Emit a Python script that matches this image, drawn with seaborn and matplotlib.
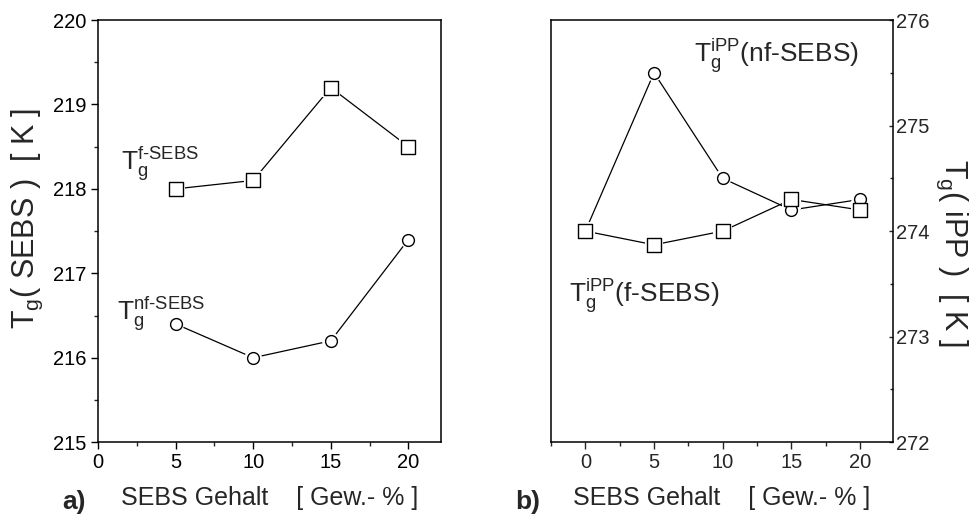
import matplotlib
matplotlib.use("Agg")
import matplotlib.pyplot as plt
import seaborn as sns
import pandas as pd
from matplotlib.ticker import MultipleLocator

# SEBS glass transition vs. SEBS content (panel a)
content_a = [5, 10, 15, 20]
tg_sebs_f = [218.0, 218.1, 219.2, 218.5]
tg_sebs_nf = [216.4, 216.0, 216.2, 217.4]

# iPP glass transition vs. SEBS content (panel b)
content_b = [0, 5, 10, 15, 20]
tg_ipp_nf = [274.0, 275.5, 274.5, 274.2, 274.3]
tg_ipp_f = [274.0, 273.87, 274.0, 274.3, 274.2]

sns.set_style("white")
plt.rcParams["font.family"] = ["Liberation Sans", "DejaVu Sans"]
plt.rcParams["mathtext.fontset"] = "custom"
plt.rcParams["mathtext.rm"] = "Liberation Sans"
plt.rcParams["mathtext.it"] = "Liberation Sans"
plt.rcParams["mathtext.default"] = "regular"

fig = plt.figure(figsize=(9.73, 5.27), dpi=100)
ax_a = fig.add_axes([0.1007, 0.161, 0.3525, 0.801])
ax_b = fig.add_axes([0.5663, 0.161, 0.3515, 0.801])

MS = {"s": 9.5, "o": 8.5}
TICK_FS = 14.5
XLAB_FS = 18
YLAB_FS = 22
ANN_FS = 19


def draw_series(ax, x, y):
    df = pd.DataFrame({"x": x, "y": y})
    sns.lineplot(data=df, x="x", y="y", ax=ax, color="black", linewidth=0.9,
                 zorder=1)
    return df


def draw_markers(ax, df, marker, halo):
    ms = MS[marker]
    if halo:
        sns.scatterplot(data=df, x="x", y="y", ax=ax, marker=marker,
                        s=(ms + 4) ** 2, color="white", edgecolor="none",
                        linewidth=0, zorder=2)
    else:
        sns.scatterplot(data=df, x="x", y="y", ax=ax, marker=marker,
                        s=ms ** 2, color="white", edgecolor="black",
                        linewidth=1.0, zorder=3)


def style_frame(ax):
    for sp in ax.spines.values():
        sp.set_visible(True)
        sp.set_linewidth(1.1)
        sp.set_color("black")
    ax.set_xlabel("")
    ax.set_ylabel("")


# ---- panel a ----
dfa = [(draw_series(ax_a, content_a, tg_sebs_f), "s"),
       (draw_series(ax_a, content_a, tg_sebs_nf), "o")]
for df, m in dfa:
    draw_markers(ax_a, df, m, True)
for df, m in dfa:
    draw_markers(ax_a, df, m, False)

style_frame(ax_a)
ax_a.set_xlim(0, 22.1)
ax_a.set_ylim(215, 220)
ax_a.xaxis.set_major_locator(MultipleLocator(5))
ax_a.xaxis.set_minor_locator(MultipleLocator(2.5))
ax_a.yaxis.set_major_locator(MultipleLocator(1))
ax_a.yaxis.set_minor_locator(MultipleLocator(0.5))
ax_a.tick_params(axis="both", which="major", direction="out", length=5,
                 width=1, labelsize=TICK_FS, pad=3, colors="black")
ax_a.tick_params(axis="both", which="minor", direction="out", length=3,
                 width=1)
ax_a.tick_params(left=True, bottom=True, which="both")
ax_a.set_ylabel(r"T$_g$( SEBS )  [ K ]", fontsize=YLAB_FS)
ax_a.yaxis.set_label_coords(-0.155, 0.53)
ax_a.set_xlabel("SEBS Gehalt    [ Gew.- % ]", fontsize=XLAB_FS, labelpad=10)
ax_a.text(-0.105, -0.142, "a)", transform=ax_a.transAxes, fontsize=19,
          fontweight="bold", ha="left", va="center")
ax_a.text(1.5, 218.22, r"T$_g^{f\text{-}SEBS}$", fontsize=ANN_FS, ha="left")
ax_a.text(1.2, 216.45, r"T$_g^{nf\text{-}SEBS}$", fontsize=ANN_FS, ha="left")

# ---- panel b ----
dfb = [(draw_series(ax_b, content_b, tg_ipp_nf), "o"),
       (draw_series(ax_b, content_b, tg_ipp_f), "s")]
for df, m in dfb:
    draw_markers(ax_b, df, m, True)
for df, m in dfb:
    draw_markers(ax_b, df, m, False)

style_frame(ax_b)
ax_b.set_xlim(-2.5, 22.4)
ax_b.set_ylim(272, 276)
ax_b.xaxis.set_major_locator(MultipleLocator(5))
ax_b.xaxis.set_minor_locator(MultipleLocator(2.5))
ax_b.yaxis.set_major_locator(MultipleLocator(1))
ax_b.yaxis.set_minor_locator(MultipleLocator(0.5))
ax_b.yaxis.tick_right()
ax_b.tick_params(axis="x", which="major", direction="out", length=5,
                 width=1, labelsize=TICK_FS, pad=3)
ax_b.tick_params(axis="x", which="minor", direction="out", length=3, width=1)
ax_b.tick_params(axis="y", which="major", direction="in", length=3,
                 width=1, labelsize=TICK_FS, pad=2)
ax_b.tick_params(axis="y", which="minor", direction="in", length=2, width=1)
ax_b.tick_params(right=True, left=False, bottom=True, which="both")
fig.text(0.978, 0.52, r"T$_g$( iPP )  [ K ]", fontsize=YLAB_FS,
         rotation=270, ha="center", va="center")
ax_b.set_xlabel("SEBS Gehalt    [ Gew.- % ]", fontsize=XLAB_FS, labelpad=10)
ax_b.text(-0.105, -0.142, "b)", transform=ax_b.transAxes, fontsize=19,
          fontweight="bold", ha="left", va="center")
ax_b.text(7.9, 275.6, r"T$_g^{iPP}$(nf-SEBS)", fontsize=ANN_FS, ha="left")
ax_b.text(-1.16, 273.33, r"T$_g^{iPP}$(f-SEBS)", fontsize=ANN_FS, ha="left")

fig.savefig("out.png", dpi=100, facecolor="white")
